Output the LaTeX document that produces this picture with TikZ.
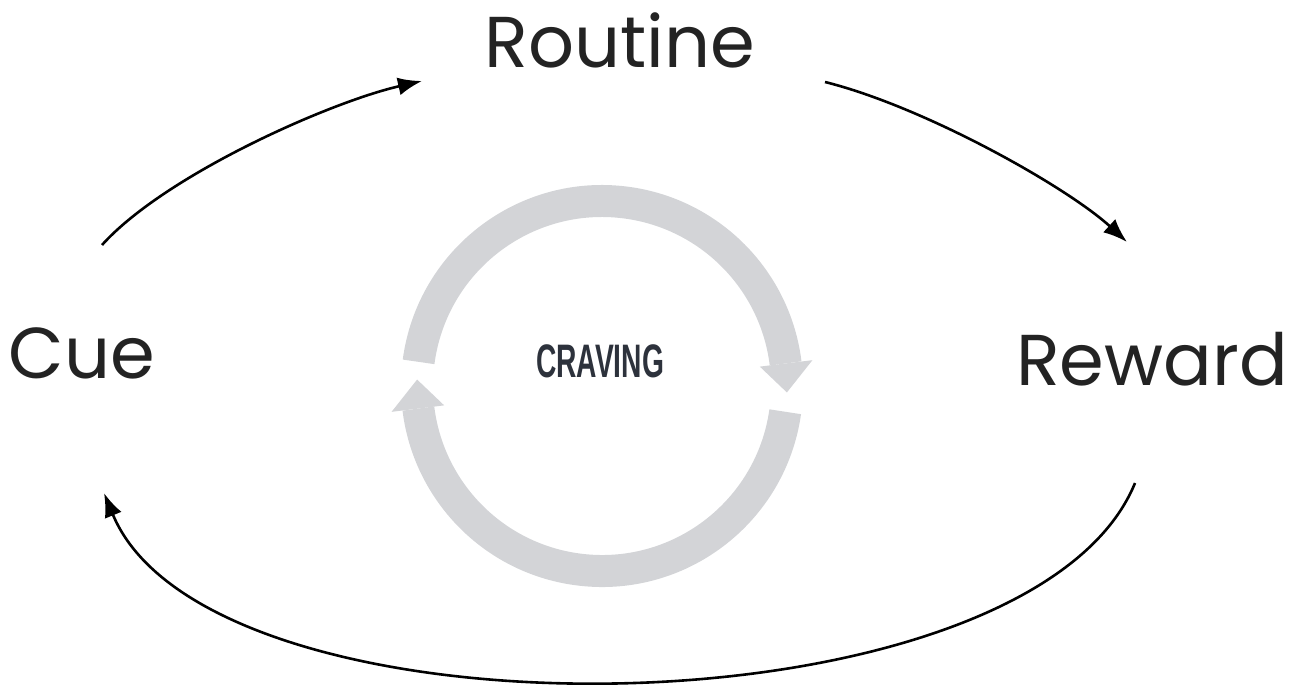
\documentclass[tikz,border=0pt]{standalone}
\usepackage{fontspec}
\setmainfont{Poppins}
\newfontfamily\cravfont{Liberation Sans}
\usetikzlibrary{arrows.meta}
\definecolor{ringgray}{RGB}{211,212,215}
\definecolor{txt}{RGB}{35,35,35}
\definecolor{cravtxt}{RGB}{45,50,60}
\begin{document}
\begin{tikzpicture}[x=1pt,y=-1pt,
  lbl/.style={font=\fontsize{72}{72}\selectfont, text=txt, anchor=base, inner sep=0pt},
  conn/.style={line width=2.6pt, draw=black, -{Latex[length=24pt,width=18pt]}},
  ringband/.style={line width=32pt, draw=ringgray},
  ringhead/.style={fill=ringgray}]
\useasboundingbox (0,0) rectangle (1289,687);
% labels
\node[lbl] (routine) at (620,68) {Routine};
\node[lbl] (reward) at (1152,385) {Reward};
\node[lbl] (cue) at (82,378) {Cue};
\node[font=\cravfont\bfseries\fontsize{47}{47}\selectfont, text=cravtxt, inner sep=0pt] (craving) at (600,361) {\scalebox{0.6}[1]{CRAVING}};
% gray ring
\begin{scope}[shift={(602,386)}]
  \draw[ringband] (-172.5:185) arc (-172.5:-7:185);
  \fill[ringhead] (-7:159) -- (-7:212) -- (2:185) -- cycle;
  \draw[ringband] (8:185) arc (8:173:185);
  \fill[ringhead] (173:159) -- (173:212) -- (182:185) -- cycle;
\end{scope}
% black connectors
\coordinate (a1s) at (102,245);
\coordinate (a1e) at (422,81);
\coordinate (a2s) at (825,82);
\coordinate (a2e) at (1127,242);
\coordinate (a3s) at (1135,483);
\coordinate (a3e) at (104,493);
\draw[conn] (a1s) .. controls (165,175) and (330,102) .. (a1e);
\draw[conn] (a2s) .. controls (925,107) and (1067,187) .. (a2e);
\draw[conn] (a3s) .. controls (1030,740) and (210,750) .. (a3e);
\end{tikzpicture}
\end{document}
